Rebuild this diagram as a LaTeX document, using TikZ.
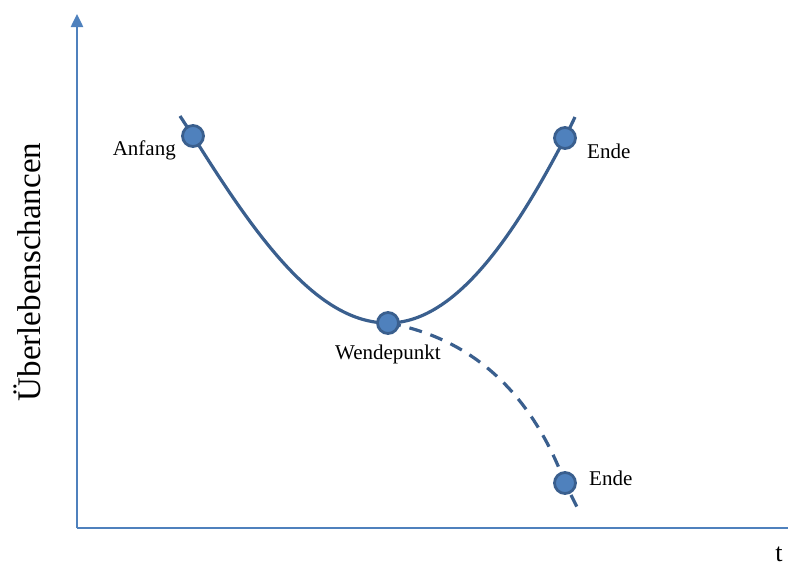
\documentclass[tikz,border=0pt]{standalone}
\usepackage{fontspec}
\setmainfont{Liberation Serif}
\usetikzlibrary{arrows.meta}
\definecolor{axisblue}{HTML}{4F81BD}
\definecolor{curveblue}{HTML}{3A5F8E}
\definecolor{dotfill}{HTML}{4F81BD}
\tikzset{
  axis/.style={draw=axisblue, line width=2.5pt},
  curve/.style={draw=curveblue, line width=3.2pt},
  dot/.style={circle, fill=dotfill, draw=curveblue, line width=2.8pt, minimum size=21pt, inner sep=0pt},
  lbl/.style={font=\fontsize{21}{23}\selectfont, inner sep=0pt}
}
\begin{document}
\begin{tikzpicture}[x=1pt, y=-1pt]
  \useasboundingbox (0,0) rectangle (788,566);
  % axes
  \coordinate (origin) at (77,528);
  \coordinate (ytop) at (77,14);
  \coordinate (xend) at (788,528);
  \draw[axis, -{Triangle[length=13pt, width=12pt]}] (origin) -- (ytop);
  \draw[axis] (origin) -- (xend);
  \node[font=\fontsize{33}{35}\selectfont, rotate=90] (ylab) at (27,272) {Überlebenschancen};
  \node[font=\fontsize{26}{28}\selectfont, inner sep=0pt] (tlab) at (779,554) {t};
  % curve ends
  \coordinate (s) at (180,116);
  \coordinate (e) at (575,117);
  \coordinate (d) at (579,511);
  % point positions
  \coordinate (pA) at (193,136);
  \coordinate (pW) at (388,323);
  \coordinate (pE) at (565,138);
  \coordinate (pD) at (565,483);
  % curves
  \draw[curve] (s) -- (pA) .. controls (258,240) and (318,323) .. (pW)
        .. controls (458,323) and (518,228) .. (pE) -- (e);
  \draw[curve, dash pattern=on 13pt off 9pt] (pW) .. controls (470,338) and (530,390) .. (pD) -- (d);
  % points
  \node[dot] (A) at (pA) {};
  \node[dot] (W) at (pW) {};
  \node[dot] (E1) at (pE) {};
  \node[dot] (E2) at (pD) {};
  % labels
  \node[lbl, anchor=east] (lA) at (176,150) {Anfang};
  \node[lbl, anchor=west] (lE1) at (587,151) {Ende};
  \node[lbl] (lW) at (388,354) {Wendepunkt};
  \node[lbl, anchor=west] (lE2) at (589,478) {Ende};
\end{tikzpicture}
\end{document}
